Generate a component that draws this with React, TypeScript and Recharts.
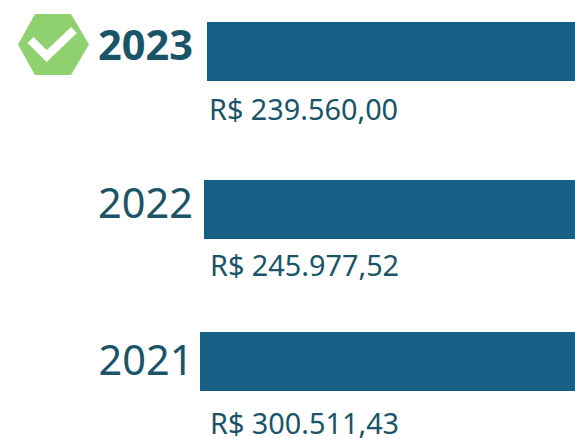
import { BarChart, Bar, XAxis, YAxis, LabelList } from 'recharts';

const years = ['2023', '2022', '2021'];
const amounts = ['R$ 239.560,00', 'R$ 245.977,52', 'R$ 300.511,43'];
// visible length of each bar (the bars run off the right edge)
const barLengths = [368, 371, 375];

const BAR_COLOR = '#166085';
const TEXT_COLOR = '#1A5468';
const FONT = '"Noto Sans", sans-serif';

// the rows are not evenly spaced in the original, so each one is its own chart
const rowLayout = [
    { top: -31, yearDy: -8, yearX: 193, amountDy: 56.5, amountX: 209 },
    { top: 127, yearDy: -8, yearX: 193, amountDy: 54.5, amountX: 210 },
    { top: 279, yearDy: -3, yearX: 193.5, amountDy: 60.5, amountX: 210 },
];

function BadgeIcon() {
    return (
        <g transform="translate(0,31)">
            <polygon points="18,44.5 35,14 71,14 89,44.5 71,75 35,75" fill="#8FD16F" />
            <polyline points="30.5,40 46.7,56 74,30" fill="none" stroke="#FFFFFF" strokeWidth={8.5} />
        </g>
    );
}

function Row({ index }: { index: number }) {
    const layout = rowLayout[index];
    const data = [{ year: years[index], length: barLengths[index], amount: amounts[index] }];
    const highlighted = index === 0;

    const yearTick = ({ y, payload }: any) => (
        <g>
            {highlighted && <BadgeIcon />}
            <text
                x={layout.yearX}
                y={y + layout.yearDy}
                textAnchor="end"
                dominantBaseline="central"
                fontFamily={FONT}
                fontSize={41.5}
                fontWeight={highlighted ? 700 : 400}
                fill={TEXT_COLOR}
            >
                {payload.value}
            </text>
        </g>
    );

    const amountLabel = ({ y, height, value }: any) => (
        <text
            x={layout.amountX}
            y={y + height / 2 + layout.amountDy}
            dominantBaseline="central"
            fontFamily={FONT}
            fontSize={28.8}
            fill={TEXT_COLOR}
        >
            {value}
        </text>
    );

    return (
        <div style={{ position: 'absolute', left: 0, top: layout.top }}>
            <BarChart
                width={575}
                height={165}
                data={data}
                layout="vertical"
                margin={{ top: 0, right: 0, bottom: 0, left: 0 }}
            >
                <XAxis type="number" domain={[0, 379]} reversed hide />
                <YAxis
                    type="category"
                    dataKey="year"
                    width={196}
                    axisLine={false}
                    tickLine={false}
                    tick={yearTick}
                />
                <Bar dataKey="length" fill={BAR_COLOR} barSize={59} isAnimationActive={false}>
                    <LabelList dataKey="amount" content={amountLabel} />
                </Bar>
            </BarChart>
        </div>
    );
}

export default function App() {
    return (
        <div style={{ position: 'absolute', left: 0, top: 0, width: 575, height: 438, overflow: 'hidden', background: '#FFFFFF' }}>
            {years.map((year, index) => (
                <Row key={year} index={index} />
            ))}
        </div>
    );
}
